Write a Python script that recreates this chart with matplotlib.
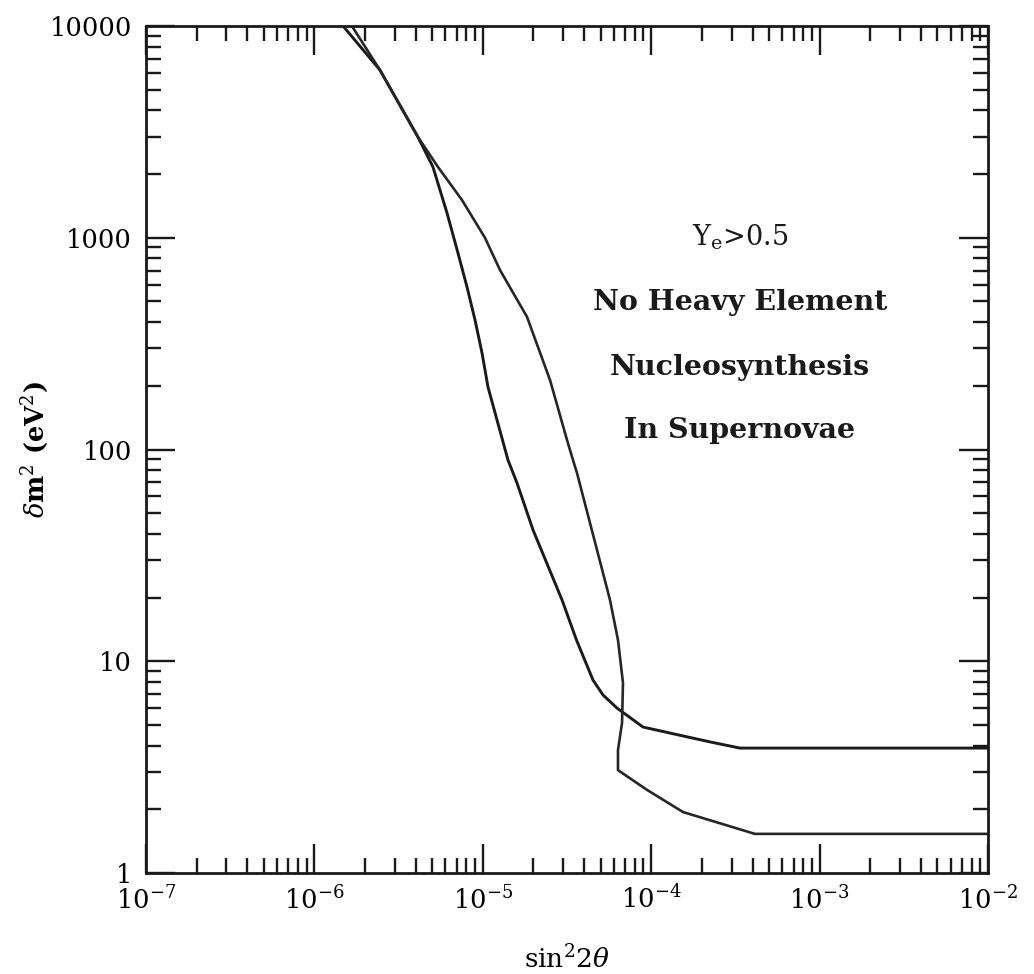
import matplotlib
matplotlib.use("Agg")
import matplotlib.pyplot as plt
from matplotlib.ticker import LogLocator, NullFormatter, FixedLocator, FixedFormatter

# Mixing-parameter boundaries for Y_e > 0.5 (delta m^2 in eV^2 vs sin^2 2theta)
curve_a_x = [1.48e-6, 2.45e-6, 4.12e-6, 5.06e-6, 6.13e-6, 7.12e-6, 8.06e-6, 8.99e-6,
             9.89e-6, 1.074e-5, 1.214e-5, 1.411e-5, 1.596e-5, 1.987e-5, 2.45e-5,
             2.953e-5, 3.6e-5, 4.512e-5, 5.174e-5, 6.263e-5, 8.94e-5, 1.293e-4,
             2.235e-4, 3.368e-4, 1e-2]
curve_a_y = [1e4, 6196, 2990, 2158, 1309, 847, 585, 409,
             286, 197, 138, 89.2, 69.5, 41.7, 27.9,
             19.5, 12.6, 8.15, 6.93, 6.01, 4.89, 4.58,
             4.16, 3.89, 3.89]

curve_b_x = [1.67e-6, 2.45e-6, 4.12e-6, 5.42e-6, 7.52e-6, 1.03e-5, 1.265e-5,
             1.83e-5, 2.506e-5, 3.162e-5, 3.432e-5, 3.626e-5, 4.33e-5, 5.174e-5,
             5.69e-5, 6.35e-5, 6.80e-5, 6.71e-5, 6.35e-5, 6.35e-5, 9.44e-5,
             1.545e-4, 4.13e-4, 1e-2]
curve_b_y = [1e4, 6196, 2990, 2158, 1508, 1000, 704,
             423, 213, 111, 89.2, 77.4, 45.0, 26.1,
             19.5, 12.6, 7.89, 5.11, 3.81, 3.06, 2.47,
             1.94, 1.53, 1.53]

y_ticks = [1, 10, 100, 1000, 10000]
y_tick_labels = ["1", "10", "100", "1000", "10000"]

annotation_lines = [r"Y$_{\mathrm{e}}$>0.5", "No Heavy Element",
                    "Nucleosynthesis", "In Supernovae"]
annotation_y = [0.750, 0.674, 0.597, 0.523]

plt.rcParams["font.family"] = "DejaVu Serif"
plt.rcParams["mathtext.fontset"] = "dejavuserif"

fig = plt.figure(figsize=(10.34, 9.74), dpi=100)
ax = fig.add_axes([146 / 1034, 1 - 873 / 974, (988 - 146) / 1034, (873 - 26) / 974])

ax.plot(curve_a_x, curve_a_y, color="#1a1a1a", lw=2.1,
        solid_joinstyle="round", solid_capstyle="round")
ax.plot(curve_b_x, curve_b_y, color="#262626", lw=1.9,
        solid_joinstyle="round", solid_capstyle="round")

ax.set_xscale("log")
ax.set_yscale("log")
ax.set_xlim(1e-7, 1e-2)
ax.set_ylim(1, 1e4)

for s in ax.spines.values():
    s.set_linewidth(2.0)
    s.set_color("#1a1a1a")

ax.xaxis.set_major_locator(LogLocator(base=10, numticks=10))
ax.xaxis.set_minor_locator(LogLocator(base=10, subs=range(2, 10), numticks=20))
ax.xaxis.set_minor_formatter(NullFormatter())
ax.yaxis.set_major_locator(FixedLocator(y_ticks))
ax.yaxis.set_major_formatter(FixedFormatter(y_tick_labels))
ax.yaxis.set_minor_locator(LogLocator(base=10, subs=range(2, 10), numticks=20))
ax.yaxis.set_minor_formatter(NullFormatter())

ax.tick_params(which="both", direction="in", top=True, right=True,
               color="#1a1a1a", width=1.7)
ax.tick_params(which="major", length=21, labelsize=18.5)
ax.tick_params(which="minor", length=11)
ax.tick_params(axis="y", which="major", pad=10)
ax.tick_params(axis="x", which="major", pad=9)

ax.set_xlabel(r"$\mathrm{sin}^{2}2\theta$", fontsize=19, labelpad=22)
ax.set_ylabel(r"$\delta$m$^{2}$ (eV$^{2}$)", fontsize=18.5, fontweight="bold")
ax.yaxis.set_label_coords(-0.113, 0.5)

for i, (txt, yy) in enumerate(zip(annotation_lines, annotation_y)):
    ax.text(0.7055, yy, txt, transform=ax.transAxes, ha="center", va="center",
            fontsize=19.5 if i == 0 else 20.5,
            fontweight="normal" if i == 0 else "bold", color="#1a1a1a")

fig.savefig("out.png", dpi=100)
